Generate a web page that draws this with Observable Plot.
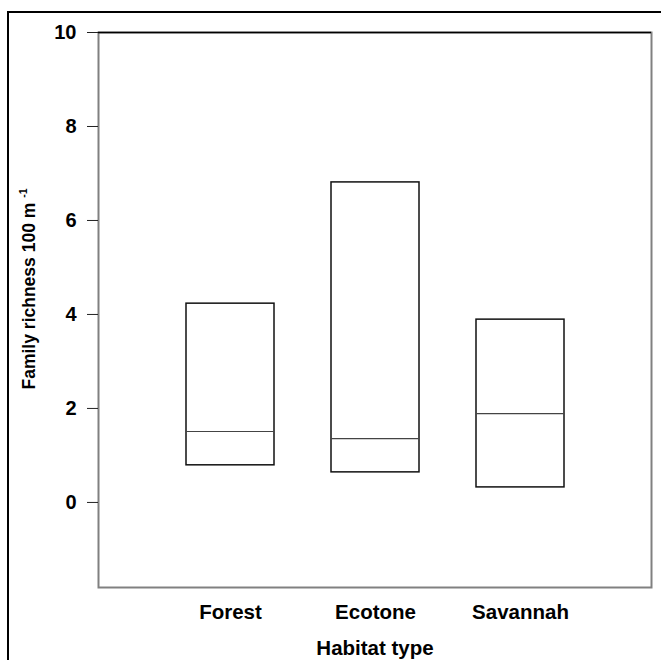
<!DOCTYPE html>
<html><head><meta charset="utf-8">
<script src="https://cdn.jsdelivr.net/npm/d3@7"></script>
<script src="https://cdn.jsdelivr.net/npm/@observablehq/plot@0.6"></script>
<style>
body{margin:0;background:#fff;}
#wrap{position:relative;width:661px;height:660px;overflow:hidden;}
#frame{position:absolute;left:7px;top:11px;width:700px;height:700px;border-top:2px solid #000;border-left:2px solid #000;pointer-events:none;}
#chart{position:absolute;left:0;top:0;}
</style></head><body>
<div id="wrap"><div id="chart"></div><div id="frame"></div></div>
<script>
const habitats = ["Forest", "Ecotone", "Savannah"];
const lower = [0.79, 0.64, 0.32];
const median = [1.51, 1.36, 1.89];
const upper = [4.23, 6.81, 3.89];
const yTicks = [0, 2, 4, 6, 8, 10];
const xTitle = "Habitat type";
const yTitle = "Family richness 100 m";
const ySup = "-1";

const data = habitats.map((h, i) => ({habitat: h, lo: lower[i], med: median[i], hi: upper[i]}));

const plot = Plot.plot({
  width: 661,
  height: 660,
  marginLeft: 98,
  marginRight: 10,
  marginTop: 32,
  marginBottom: 73,
  style: {fontFamily: "'Liberation Sans', Arial, sans-serif", fontWeight: "bold", background: "transparent", color: "#000"},
  x: {domain: habitats, paddingInner: 0.395, paddingOuter: 0.6, label: null},
  y: {domain: [-1.81, 10], label: null},
  marks: [
    Plot.frame({stroke: "#808080", strokeWidth: 2}),
    Plot.ruleY([10], {stroke: "#000", strokeWidth: 1.5}),
    Plot.barY(data, {x: "habitat", y1: "lo", y2: "hi", fill: "white", stroke: "#111", strokeWidth: 1.5}),
    Plot.tickY(data, {x: "habitat", y: "med", stroke: "#444", strokeWidth: 1.2}),
    Plot.axisY({ticks: yTicks, tickSize: 11, tickPadding: 11, stroke: "#222", fontSize: 20, label: null}),
    Plot.axisX({tickSize: 0, tickPadding: 17, fontSize: 20.5, label: null}),
    Plot.text([xTitle], {frameAnchor: "bottom", lineAnchor: "bottom", dy: 67, fontSize: 20.5, fontWeight: "bold", fill: "#000"})
  ]
});
document.getElementById("chart").appendChild(plot);

const svg = d3.select(plot);
const t = svg.append("text")
  .attr("transform", "translate(35,289) rotate(-90)")
  .attr("text-anchor", "middle")
  .attr("font-size", 17.5)
  .attr("font-weight", "bold")
  .attr("fill", "#000");
t.append("tspan").text(yTitle + " ");
t.append("tspan").attr("dy", -8).attr("font-size", 10.5).text(ySup);
</script>
</body></html>
